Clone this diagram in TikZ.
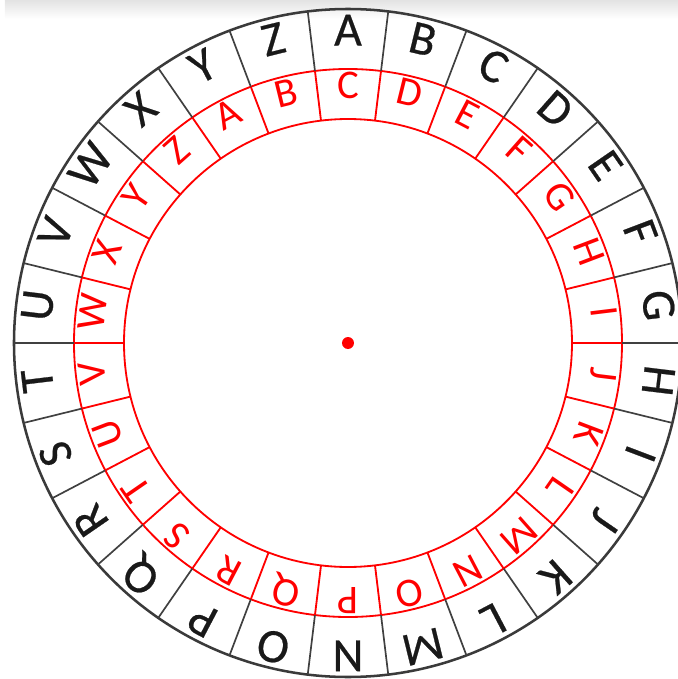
\documentclass[tikz,border=0pt]{standalone}
\usepackage{fontspec}
\setmainfont{Carlito}
\newfontfamily\plainfont[FakeBold=0.5]{Carlito}
\definecolor{ringgray}{HTML}{3A3A3A}
\begin{document}
\begin{tikzpicture}[x=0.025cm, y=0.025cm,
  plain letter/.style={font=\plainfont\fontsize{34}{34}\selectfont, text=black!90, inner sep=0pt,
    text height=0.64em, text depth=0pt},
  shift letter/.style={font=\fontsize{29}{29}\selectfont, text=red, inner sep=0pt,
    text height=0.64em, text depth=0pt},
  divider/.style={draw=black!75, line width=1.2pt},
  red line/.style={draw=red, line width=1.3pt}]
  \useasboundingbox (-348,-336) rectangle (330,343);
  \clip (-348,-336) rectangle (330,343);
  \shade[top color=gray!22, bottom color=white] (-343,343) rectangle (330,324);
  % rings
  \draw[ringgray, line width=1.8pt] (0,0) circle (334);
  \draw[red line] (0,0) circle (274);
  \draw[red line] (0,0) circle (224);
  \foreach \k in {0,...,25} {
    \draw[divider] ({90-(\k+0.5)*360/26}:274) -- ({90-(\k+0.5)*360/26}:334);
    \draw[red line] ({90-(\k+0.5)*360/26}:224) -- ({90-(\k+0.5)*360/26}:274);
  }
  % plain alphabet (outer ring)
  \foreach \l [count=\i from 0] in {A,...,Z}
    \node[plain letter, rotate={-\i*360/26}] (plain-\l) at ({90-\i*360/26}:302) {\l};
  % shifted alphabet (inner ring)
  \foreach \l [count=\i from 0] in {C,D,E,F,G,H,I,J,K,L,M,N,O,P,Q,R,S,T,U,V,W,X,Y,Z,A,B}
    \node[shift letter, rotate={-\i*360/26}] (shift-\l) at ({90-\i*360/26}:249) {\l};
  % centre
  \fill[red] (0,0) circle (6) coordinate (centre);
\end{tikzpicture}
\end{document}
